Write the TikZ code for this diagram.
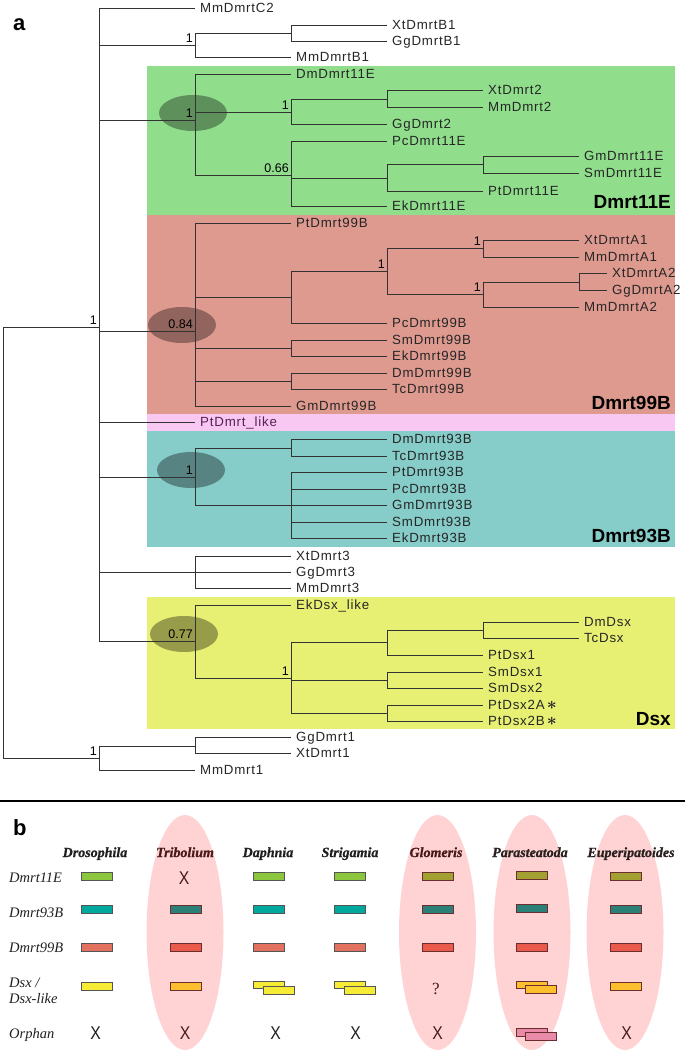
\documentclass[tikz,border=0pt]{standalone}
\usepackage{fontspec}
\setmainfont{Liberation Serif}
\newfontfamily\treefont[LetterSpace=6]{Liberation Sans}
\newfontfamily\sansf{Liberation Sans}
\newfontfamily\serf{Liberation Serif}
\newfontfamily\hdrf{Liberation Serif Bold Italic}[FakeBold=0.8]
\definecolor{cgreen}{HTML}{90DE8C}
\definecolor{cred}{HTML}{DF9A8F}
\definecolor{cpink}{HTML}{F8C8F2}
\definecolor{cteal}{HTML}{86CCC9}
\definecolor{cyel}{HTML}{E8F073}
\definecolor{ellpink}{HTML}{FFD3D3}
\definecolor{gLight}{HTML}{8CC63E}
\definecolor{gDark}{HTML}{A3A032}
\definecolor{tLight}{HTML}{00A99D}
\definecolor{tDark}{HTML}{2B8077}
\definecolor{rLight}{HTML}{E2725F}
\definecolor{rDark}{HTML}{EA5A4A}
\definecolor{yLight}{HTML}{F6EC35}
\definecolor{yDark}{HTML}{FCC02E}
\definecolor{pinkbar}{HTML}{E98AA8}
\definecolor{bdLight}{HTML}{555555}
\definecolor{bdDark}{HTML}{6B2D2D}
\definecolor{txtDark}{HTML}{4A1818}
\definecolor{txtDark2}{HTML}{2B2020}
\definecolor{likecol}{HTML}{552255}
\newcommand\leaf[4]{\coordinate (#1) at (#2,#3); \node[leaflab] (#1-l) at (#1) {#4};}
\newcommand\bigast{\,{\fontsize{17}{17}\selectfont\boldmath$\ast$}}
\begin{document}
\begin{tikzpicture}[x=1pt,y=-1pt,
  br/.style={draw=black!80,line width=0.9pt},
  leaflab/.style={anchor=west,inner sep=0pt,xshift=5pt,text height=9.5pt,text depth=0pt,font=\fontsize{13.3}{15}\treefont,text=black!85},
  supp/.style={anchor=south east,inner sep=0pt,xshift=-2pt,yshift=2pt,font=\fontsize{12.5}{14}\sansf,text=black},
  clab/.style={anchor=base east,inner sep=0pt,font=\fontsize{19}{21}\sansf\bfseries,text=black},
  shade/.style={fill=black,opacity=0.35},
  bar/.style={draw=bdLight,line width=1pt,minimum width=31pt,minimum height=8pt,inner sep=0pt},
  dbar/.style={bar,draw=bdDark},
  hdr/.style={anchor=base,inner sep=0pt,font=\fontsize{14}{16}\hdrf,text=black!88},
  rowlab/.style={anchor=base west,inner sep=0pt,font=\fontsize{14.5}{16}\serf\itshape,text=black!88},
  xmark/.style={anchor=base,inner sep=0pt,font=\fontsize{18.5}{20}\sansf,text=black!88},
  panel/.style={anchor=base west,inner sep=0pt,font=\fontsize{22}{24}\sansf\bfseries}]
\useasboundingbox (0,0) rectangle (685,1056);
% ---------- panel a backgrounds
\fill[cgreen] (147,66) rectangle (675,215);
\fill[cred] (147,215) rectangle (675,414);
\fill[cpink] (147,414) rectangle (675,431);
\fill[cteal] (147,431) rectangle (675,547);
\fill[cyel] (147,597) rectangle (675,729);
\fill[shade] (193,113) ellipse [x radius=34pt,y radius=18pt];
\fill[shade] (182,325) ellipse [x radius=34pt,y radius=18pt];
\fill[shade] (191,470) ellipse [x radius=34pt,y radius=18pt];
\fill[shade] (184,634) ellipse [x radius=34pt,y radius=18pt];
\node[panel] (pa) at (13,31) {a};
% ---------- internal nodes
\coordinate (R) at (3,542);
\coordinate (A) at (99,327);
\coordinate (M1) at (99,758);
\coordinate (B1) at (195,45);
\coordinate (B1a) at (291,33);
\coordinate (E11) at (195,120);
\coordinate (E2) at (291,112);
\coordinate (D2) at (387,99);
\coordinate (E66) at (291,175);
\coordinate (E3) at (387,178);
\coordinate (E4) at (483,164);
\coordinate (N99) at (195,331);
\coordinate (P1) at (291,297);
\coordinate (P2) at (387,271);
\coordinate (A1n) at (483,248);
\coordinate (A2n) at (483,294);
\coordinate (A2b) at (579,282);
\coordinate (S99) at (291,348);
\coordinate (D99) at (291,381);
\coordinate (N93) at (195,477);
\coordinate (T93) at (291,448);
\coordinate (U93) at (291,505);
\coordinate (N3) at (195,572);
\coordinate (NDsx) at (195,641);
\coordinate (X1) at (291,678);
\coordinate (X2) at (387,642);
\coordinate (X3) at (483,630);
\coordinate (X4) at (387,680);
\coordinate (X5) at (387,713);
\coordinate (M1a) at (195,746);
% ---------- leaves
\leaf{MmDmrtC2}{195}{8}{MmDmrtC2}
\leaf{XtDmrtB1}{387}{25}{XtDmrtB1}
\leaf{GgDmrtB1}{387}{41}{GgDmrtB1}
\leaf{MmDmrtB1}{291}{57}{MmDmrtB1}
\leaf{DmDmrt11E}{291}{74}{DmDmrt11E}
\leaf{XtDmrt2}{483}{90}{XtDmrt2}
\leaf{MmDmrt2}{483}{107}{MmDmrt2}
\leaf{GgDmrt2}{387}{124}{GgDmrt2}
\leaf{PcDmrt11E}{387}{141}{PcDmrt11E}
\leaf{GmDmrt11E}{579}{156}{GmDmrt11E}
\leaf{SmDmrt11E}{579}{173}{SmDmrt11E}
\leaf{PtDmrt11E}{483}{191}{PtDmrt11E}
\leaf{EkDmrt11E}{387}{206}{EkDmrt11E}
\leaf{PtDmrt99B}{291}{223}{PtDmrt99B}
\leaf{XtDmrtA1}{579}{240}{XtDmrtA1}
\leaf{MmDmrtA1}{579}{257}{MmDmrtA1}
\leaf{XtDmrtA2}{607}{273}{XtDmrtA2}
\leaf{GgDmrtA2}{607}{290}{GgDmrtA2}
\leaf{MmDmrtA2}{579}{307}{MmDmrtA2}
\leaf{PcDmrt99B}{387}{323}{PcDmrt99B}
\leaf{SmDmrt99B}{387}{340}{SmDmrt99B}
\leaf{EkDmrt99B}{387}{356}{EkDmrt99B}
\leaf{DmDmrt99B}{387}{373}{DmDmrt99B}
\leaf{TcDmrt99B}{387}{389}{TcDmrt99B}
\leaf{GmDmrt99B}{291}{406}{GmDmrt99B}
\leaf{PtDmrtlike}{195}{422}{\color{likecol}PtDmrt\_like}
\leaf{DmDmrt93B}{387}{439}{DmDmrt93B}
\leaf{TcDmrt93B}{387}{456}{TcDmrt93B}
\leaf{PtDmrt93B}{387}{472}{PtDmrt93B}
\leaf{PcDmrt93B}{387}{489}{PcDmrt93B}
\leaf{GmDmrt93B}{387}{505}{GmDmrt93B}
\leaf{SmDmrt93B}{387}{522}{SmDmrt93B}
\leaf{EkDmrt93B}{387}{538}{EkDmrt93B}
\leaf{XtDmrt3}{291}{556}{XtDmrt3}
\leaf{GgDmrt3}{291}{572}{GgDmrt3}
\leaf{MmDmrt3}{291}{588}{MmDmrt3}
\leaf{EkDsxlike}{291}{605}{EkDsx\_like}
\leaf{DmDsx}{579}{622}{DmDsx}
\leaf{TcDsx}{579}{638}{TcDsx}
\leaf{PtDsx1}{483}{655}{PtDsx1}
\leaf{SmDsx1}{483}{672}{SmDsx1}
\leaf{SmDsx2}{483}{688}{SmDsx2}
\leaf{PtDsxA}{483}{705}{PtDsx2A\bigast}
\leaf{PtDsxB}{483}{721}{PtDsx2B\bigast}
\leaf{GgDmrt1}{291}{737}{GgDmrt1}
\leaf{XtDmrt1}{291}{753}{XtDmrt1}
\leaf{MmDmrt1}{195}{770}{MmDmrt1}
% ---------- branches
\foreach \p/\c in {R/A,R/M1,
  A/MmDmrtC2,A/B1,A/E11,A/N99,A/PtDmrtlike,A/N93,A/N3,A/NDsx,
  B1/B1a,B1a/XtDmrtB1,B1a/GgDmrtB1,B1/MmDmrtB1,
  E11/DmDmrt11E,E11/E2,E11/E66,E2/D2,D2/XtDmrt2,D2/MmDmrt2,E2/GgDmrt2,
  E66/PcDmrt11E,E66/E3,E66/EkDmrt11E,E3/E4,E4/GmDmrt11E,E4/SmDmrt11E,E3/PtDmrt11E,
  N99/PtDmrt99B,N99/P1,N99/S99,N99/D99,N99/GmDmrt99B,
  P1/P2,P1/PcDmrt99B,P2/A1n,P2/A2n,A1n/XtDmrtA1,A1n/MmDmrtA1,
  A2n/A2b,A2n/MmDmrtA2,A2b/XtDmrtA2,A2b/GgDmrtA2,
  S99/SmDmrt99B,S99/EkDmrt99B,D99/DmDmrt99B,D99/TcDmrt99B,
  N93/T93,N93/U93,T93/DmDmrt93B,T93/TcDmrt93B,
  U93/PtDmrt93B,U93/PcDmrt93B,U93/GmDmrt93B,U93/SmDmrt93B,U93/EkDmrt93B,
  N3/XtDmrt3,N3/GgDmrt3,N3/MmDmrt3,
  NDsx/EkDsxlike,NDsx/X1,X1/X2,X1/X4,X1/X5,X2/X3,X2/PtDsx1,X3/DmDsx,X3/TcDsx,
  X4/SmDsx1,X4/SmDsx2,X5/PtDsxA,X5/PtDsxB,
  M1/M1a,M1/MmDmrt1,M1a/GgDmrt1,M1a/XtDmrt1}
  \draw[br] (\p) |- (\c);
% ---------- support values
\node[supp] (sA) at (A) {1};
\node[supp] (sB1) at (B1) {1};
\node[supp] (sE11) at (E11) {1};
\node[supp] (sE2) at (E2) {1};
\node[supp] (sE66) at (E66) {0.66};
\node[supp] (sN99) at (N99) {0.84};
\node[supp] (sP2) at (P2) {1};
\node[supp] (sA1) at (A1n) {1};
\node[supp] (sA2) at (A2n) {1};
\node[supp] (sN93) at (N93) {1};
\node[supp] (sDsx) at (NDsx) {0.77};
\node[supp] (sX1) at (X1) {1};
\node[supp] (sM1) at (M1) {1};
% ---------- clade labels
\node[clab] (c11) at (671,209) {Dmrt11E};
\node[clab] (c99) at (671,409) {Dmrt99B};
\node[clab] (c93) at (671,542) {Dmrt93B};
\node[clab] (cdsx) at (671,725) {Dsx};
% ---------- separator
\draw[line width=2.5pt] (0,801) -- (685,801);
% ---------- panel b
\node[panel] (pb) at (13,835) {b};
\fill[ellpink] (185,932.5) ellipse [x radius=38.5pt,y radius=117.5pt];
\fill[ellpink] (437.5,932.5) ellipse [x radius=38.5pt,y radius=117.5pt];
\fill[ellpink] (532,932.5) ellipse [x radius=38.5pt,y radius=117.5pt];
\fill[ellpink] (625,932.5) ellipse [x radius=38.5pt,y radius=117.5pt];
% headers
\node[hdr] (hDro) at (95,857) {Drosophila};
\node[hdr,text=txtDark] (hTri) at (185,857) {Tribolium};
\node[hdr] (hDap) at (268,857) {Daphnia};
\node[hdr] (hStr) at (350,857) {Strigamia};
\node[hdr,text=txtDark] (hGlo) at (436,857) {Glomeris};
\node[hdr,text=txtDark2] (hPar) at (530,857) {Parasteatoda};
\node[hdr,text=txtDark2] (hEup) at (631,857) {Euperipatoides};
% row labels
\node[rowlab] (r11) at (9,882) {Dmrt11E};
\node[rowlab] (r93) at (9,917) {Dmrt93B};
\node[rowlab] (r99) at (9,952) {Dmrt99B};
\node[rowlab] (rdsx) at (9,987) {Dsx /};
\node[rowlab] (rdsx2) at (9,1003) {Dsx-like};
\node[rowlab] (rorph) at (9,1038) {Orphan};
% Drosophila
\node[bar,fill=gLight] (bDro11) at (97,876) {};
\node[bar,fill=tLight] (bDro93) at (97,909) {};
\node[bar,fill=rLight] (bDro99) at (97,947.5) {};
\node[bar,fill=yLight] (bDroDsx) at (97,986) {};
\node[xmark] (xDro) at (95.5,1039) {\scalebox{0.85}[1]{X}};
% Tribolium
\node[xmark,text=txtDark] (xTri11) at (184,884) {\scalebox{0.85}[1]{X}};
\node[dbar,fill=tDark] (bTri93) at (186,909) {};
\node[dbar,fill=rDark] (bTri99) at (186,947.5) {};
\node[dbar,fill=yDark] (bTriDsx) at (186,986) {};
\node[xmark,text=txtDark] (xTri) at (185,1039) {\scalebox{0.85}[1]{X}};
% Daphnia
\node[bar,fill=gLight] (bDap11) at (269,876) {};
\node[bar,fill=tLight] (bDap93) at (269,909) {};
\node[bar,fill=rLight] (bDap99) at (269,947.5) {};
\node[bar,fill=yLight,minimum height=7pt] (bDapDsxA) at (269,984.5) {};
\node[bar,fill=yLight] (bDapDsxB) at (279,990) {};
\node[xmark] (xDap) at (275.5,1039) {\scalebox{0.85}[1]{X}};
% Strigamia
\node[bar,fill=gLight] (bStr11) at (349.5,876) {};
\node[bar,fill=tLight] (bStr93) at (349.5,909) {};
\node[bar,fill=rLight] (bStr99) at (349.5,947.5) {};
\node[bar,fill=yLight,minimum height=7pt] (bStrDsxA) at (349.5,984.5) {};
\node[bar,fill=yLight] (bStrDsxB) at (359.5,990) {};
\node[xmark] (xStr) at (355.5,1039) {\scalebox{0.85}[1]{X}};
% Glomeris
\node[dbar,fill=gDark] (bGlo11) at (437.5,876) {};
\node[dbar,fill=tDark] (bGlo93) at (437.5,909) {};
\node[dbar,fill=rDark] (bGlo99) at (437.5,947.5) {};
\node[anchor=base,inner sep=0pt,font=\fontsize{17}{18}\serf,text=txtDark] (qGlo) at (436,994) {?};
\node[xmark,text=txtDark] (xGlo) at (437.5,1039) {\scalebox{0.85}[1]{X}};
% Parasteatoda
\node[dbar,fill=gDark] (bPar11) at (531.5,875) {};
\node[dbar,fill=tDark] (bPar93) at (531.5,908.5) {};
\node[dbar,fill=rDark] (bPar99) at (531.5,947) {};
\node[dbar,fill=yDark,minimum height=7pt] (bParDsxA) at (531.5,984.5) {};
\node[dbar,fill=yDark] (bParDsxB) at (541,989) {};
\node[dbar,fill=pinkbar] (bParOrA) at (532,1032.5) {};
\node[dbar,fill=pinkbar] (bParOrB) at (541,1036.5) {};
% Euperipatoides
\node[dbar,fill=gDark] (bEup11) at (625.5,876) {};
\node[dbar,fill=tDark] (bEup93) at (625.5,909) {};
\node[dbar,fill=rDark] (bEup99) at (625.5,947.5) {};
\node[dbar,fill=yDark] (bEupDsx) at (625.5,986) {};
\node[xmark,text=txtDark] (xEup) at (626.5,1039) {\scalebox{0.85}[1]{X}};
\end{tikzpicture}
\end{document}
